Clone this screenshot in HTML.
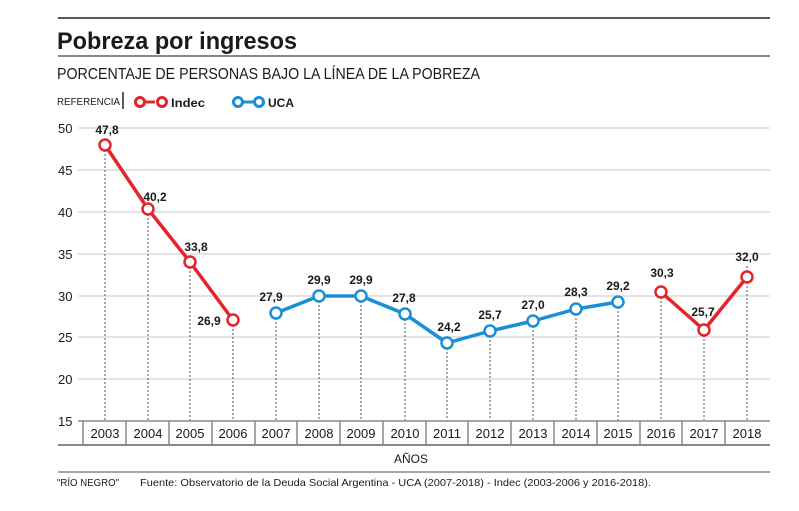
<!DOCTYPE html>
<html><head><meta charset="utf-8"><style>
body{margin:0;background:#fff;}
svg{display:block;font-family:"Liberation Sans",sans-serif;}
</style></head><body>
<svg width="799" height="511" viewBox="0 0 799 511" xmlns="http://www.w3.org/2000/svg">
<line x1="58" y1="18" x2="770" y2="18" stroke="#222" stroke-width="1.5"/>
<text x="57" y="49" font-size="24" font-weight="bold" fill="#1a1a1a" textLength="240" lengthAdjust="spacingAndGlyphs">Pobreza por ingresos</text>
<line x1="58" y1="56" x2="770" y2="56" stroke="#888" stroke-width="2"/>
<text x="57" y="79" font-size="15.5" fill="#1a1a1a" textLength="423" lengthAdjust="spacingAndGlyphs">PORCENTAJE DE PERSONAS BAJO LA LÍNEA DE LA POBREZA</text>
<text x="57" y="105" font-size="10" fill="#1a1a1a" textLength="63" lengthAdjust="spacingAndGlyphs">REFERENCIA</text>
<line x1="123" y1="92" x2="123" y2="109" stroke="#222" stroke-width="1.5"/>
<g stroke="#e3242b" stroke-width="3" fill="#fff"><line x1="141" y1="102" x2="155" y2="102"/><circle cx="140" cy="102" r="4.5"/><circle cx="162" cy="102" r="4.5"/></g>
<text x="171" y="107" font-size="12" font-weight="bold" fill="#1a1a1a" textLength="34" lengthAdjust="spacingAndGlyphs">Indec</text>
<g stroke="#1a8fd6" stroke-width="3" fill="#fff"><line x1="239" y1="102" x2="253" y2="102"/><circle cx="238" cy="102" r="4.5"/><circle cx="259" cy="102" r="4.5"/></g>
<text x="268" y="107" font-size="12" font-weight="bold" fill="#1a1a1a">UCA</text>
<g stroke="#dcdcdc" stroke-width="1.5">
<line x1="78" y1="128" x2="770" y2="128"/><line x1="78" y1="170" x2="770" y2="170"/><line x1="78" y1="212" x2="770" y2="212"/><line x1="78" y1="254" x2="770" y2="254"/><line x1="78" y1="296" x2="770" y2="296"/><line x1="78" y1="337" x2="770" y2="337"/><line x1="78" y1="379" x2="770" y2="379"/>
</g>
<g font-size="13" fill="#1a1a1a">
<text x="58" y="133">50</text><text x="58" y="175">45</text><text x="58" y="217">40</text><text x="58" y="259">35</text><text x="58" y="301">30</text><text x="58" y="342">25</text><text x="58" y="384">20</text><text x="58" y="426">15</text>
</g>
<g stroke="#555" stroke-width="1" stroke-dasharray="2,2">
<line x1="105" y1="150" x2="105" y2="421"/><line x1="148" y1="214" x2="148" y2="421"/><line x1="190" y1="267" x2="190" y2="421"/><line x1="233" y1="325" x2="233" y2="421"/><line x1="276" y1="318" x2="276" y2="421"/><line x1="319" y1="301" x2="319" y2="421"/><line x1="361" y1="301" x2="361" y2="421"/><line x1="405" y1="319" x2="405" y2="421"/><line x1="447" y1="348" x2="447" y2="421"/><line x1="490" y1="336" x2="490" y2="421"/><line x1="533" y1="326" x2="533" y2="421"/><line x1="576" y1="314" x2="576" y2="421"/><line x1="618" y1="307" x2="618" y2="421"/><line x1="661" y1="297" x2="661" y2="421"/><line x1="704" y1="335" x2="704" y2="421"/><line x1="747" y1="266" x2="747" y2="421"/>
</g>
<line x1="78" y1="421" x2="770" y2="421" stroke="#888" stroke-width="1.5"/>
<g stroke="#888" stroke-width="1.5">
<line x1="83" y1="421" x2="83" y2="445"/><line x1="126" y1="421" x2="126" y2="445"/><line x1="169" y1="421" x2="169" y2="445"/><line x1="212" y1="421" x2="212" y2="445"/><line x1="255" y1="421" x2="255" y2="445"/><line x1="297" y1="421" x2="297" y2="445"/><line x1="340" y1="421" x2="340" y2="445"/><line x1="383" y1="421" x2="383" y2="445"/><line x1="426" y1="421" x2="426" y2="445"/><line x1="468" y1="421" x2="468" y2="445"/><line x1="511" y1="421" x2="511" y2="445"/><line x1="554" y1="421" x2="554" y2="445"/><line x1="597" y1="421" x2="597" y2="445"/><line x1="640" y1="421" x2="640" y2="445"/><line x1="682" y1="421" x2="682" y2="445"/><line x1="725" y1="421" x2="725" y2="445"/>
</g>
<line x1="58" y1="445" x2="770" y2="445" stroke="#888" stroke-width="2"/>
<g font-size="13" fill="#1a1a1a" text-anchor="middle">
<text x="105" y="438">2003</text><text x="148" y="438">2004</text><text x="190" y="438">2005</text><text x="233" y="438">2006</text><text x="276" y="438">2007</text><text x="319" y="438">2008</text><text x="361" y="438">2009</text><text x="405" y="438">2010</text><text x="447" y="438">2011</text><text x="490" y="438">2012</text><text x="533" y="438">2013</text><text x="576" y="438">2014</text><text x="618" y="438">2015</text><text x="661" y="438">2016</text><text x="704" y="438">2017</text><text x="747" y="438">2018</text>
<text x="411" y="463" font-size="12">AÑOS</text>
</g>
<line x1="58" y1="472" x2="770" y2="472" stroke="#888" stroke-width="1.5"/>
<text x="57" y="486" font-size="10" fill="#1a1a1a" textLength="62" lengthAdjust="spacingAndGlyphs">"RÍO NEGRO"</text>
<text x="140" y="486" font-size="10.5" fill="#1a1a1a" textLength="511" lengthAdjust="spacingAndGlyphs">Fuente: Observatorio de la Deuda Social Argentina - UCA (2007-2018) - Indec (2003-2006 y 2016-2018).</text>
<g fill="none" stroke-width="3.5" stroke-linejoin="round">
<polyline stroke="#e3242b" points="105,145 148,209 190,262 233,320"/>
<polyline stroke="#1a8fd6" points="276,313 319,296 361,296 405,314 447,343 490,331 533,321 576,309 618,302"/>
<polyline stroke="#e3242b" points="661,292 704,330 747,277"/>
</g>
<g fill="#fff" stroke-width="2.5">
<g stroke="#e3242b"><circle cx="105" cy="145" r="5.5"/><circle cx="148" cy="209" r="5.5"/><circle cx="190" cy="262" r="5.5"/><circle cx="233" cy="320" r="5.5"/><circle cx="661" cy="292" r="5.5"/><circle cx="704" cy="330" r="5.5"/><circle cx="747" cy="277" r="5.5"/></g>
<g stroke="#1a8fd6"><circle cx="276" cy="313" r="5.5"/><circle cx="319" cy="296" r="5.5"/><circle cx="361" cy="296" r="5.5"/><circle cx="405" cy="314" r="5.5"/><circle cx="447" cy="343" r="5.5"/><circle cx="490" cy="331" r="5.5"/><circle cx="533" cy="321" r="5.5"/><circle cx="576" cy="309" r="5.5"/><circle cx="618" cy="302" r="5.5"/></g>
</g>
<g font-size="12" font-weight="bold" fill="#1a1a1a" text-anchor="middle">
<text x="107" y="134">47,8</text><text x="155" y="201">40,2</text><text x="196" y="251">33,8</text><text x="209" y="325">26,9</text>
<text x="271" y="301">27,9</text><text x="319" y="284">29,9</text><text x="361" y="284">29,9</text><text x="404" y="302">27,8</text><text x="449" y="331">24,2</text><text x="490" y="319">25,7</text><text x="533" y="309">27,0</text><text x="576" y="296">28,3</text><text x="618" y="290">29,2</text>
<text x="662" y="277">30,3</text><text x="703" y="316">25,7</text><text x="747" y="261">32,0</text>
</g>
</svg>
</body></html>
